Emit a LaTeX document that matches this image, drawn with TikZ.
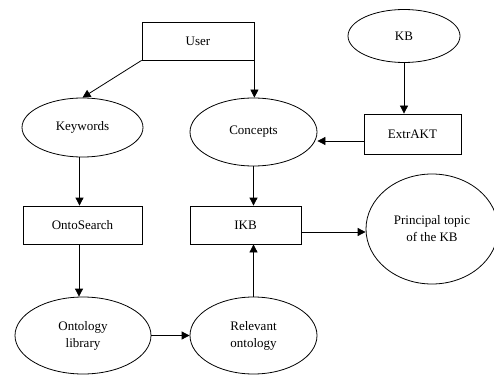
\documentclass[tikz,border=0pt]{standalone}
\usepackage{fontspec}
\setmainfont{Liberation Serif}
\usetikzlibrary{arrows.meta,shapes.geometric}
\begin{document}
\begin{tikzpicture}[x=1pt,y=-1pt,
  every node/.style={font=\fontsize{13}{17}\selectfont, align=center, inner sep=0pt},
  procbox/.style={draw, line width=0.8pt, rectangle},
  databub/.style={draw, line width=0.8pt, ellipse},
  flow/.style={draw, line width=0.8pt, -{Triangle[length=8pt,width=8pt]}}]
  \useasboundingbox (0,0) rectangle (494,374);

  % processes
  \node[procbox, minimum width=112pt, minimum height=38pt] (user) at (198,41) {User};
  \node[procbox, minimum width=97pt, minimum height=40pt] (extr) at (412.5,134) {ExtrAKT};
  \node[procbox, minimum width=119pt, minimum height=38pt] (onto) at (82.5,225) {OntoSearch};
  \node[procbox, minimum width=111pt, minimum height=38pt] (ikb) at (245.5,225) {IKB};

  % data
  \node[databub, minimum width=112pt, minimum height=53pt] (kb) at (404,36) {KB};
  \node[databub, minimum width=121pt, minimum height=59pt] (kw) at (82.5,127.5) {Keywords};
  \node[databub, minimum width=127pt, minimum height=68pt] (conc) at (253.5,132) {Concepts};
  \node[databub, minimum width=132pt, minimum height=110pt] (topic) at (432,229) {Principal topic\\of the KB};
  \node[databub, minimum width=136pt, minimum height=77pt] (lib) at (83,335.5) {Ontology\\library};
  \node[databub, minimum width=127pt, minimum height=77pt] (rel) at (253.5,335.5) {Relevant\\ontology};

  % connectors
  \draw[flow] (user.south west) -- (kw.north);
  \draw[flow] (user.south east) -- (user.south east |- conc.north);
  \draw[flow] (kb.south) -- (kb.south |- extr.north);
  \draw[flow] ([yshift=-7pt]extr.west) -- ([yshift=-7pt]extr.west -| conc.east);
  \draw[flow] ([xshift=-3pt]kw.south) -- ([xshift=-3pt]kw.south |- onto.north);
  \draw[flow] (conc.south) -- (conc.south |- ikb.north);
  \draw[flow] ([yshift=-7pt]ikb.east) -- ([yshift=-7pt]ikb.east -| topic.west);
  \draw[flow] ([xshift=-3.5pt]onto.south) -- ([xshift=-3.5pt]onto.south |- lib.north);
  \draw[flow] (lib.east) -- (rel.west);
  \draw[flow] (rel.north) -- (rel.north |- ikb.south);
\end{tikzpicture}
\end{document}
